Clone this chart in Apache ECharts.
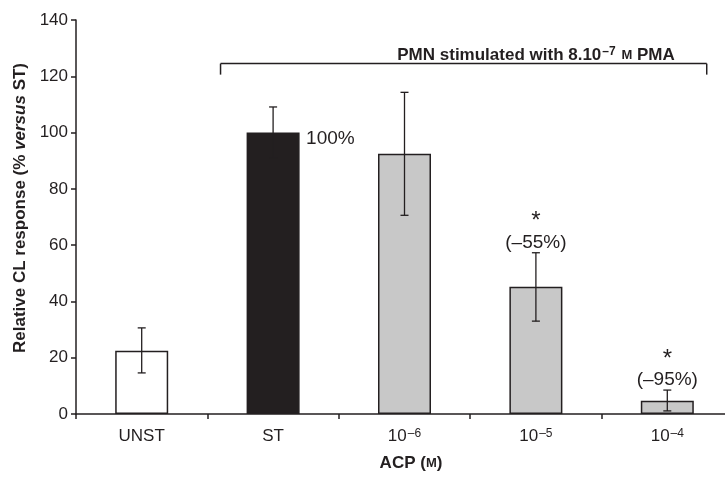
<!DOCTYPE html>
<html>
<head>
<meta charset="utf-8">
<script src="https://cdn.jsdelivr.net/npm/echarts@6/dist/echarts.min.js"></script>
<style>html,body{margin:0;padding:0;background:#fff;overflow:hidden;width:725px;height:477px;}#c{width:740px;height:477px;}</style>
</head>
<body>
<div id="c"></div>
<script>
// ---- data ----
var categories = ['UNST', 'ST', '1e-6', '1e-5', '1e-4'];
var tickLabels = ['UNST', 'ST', '10{s|–6}', '10{s|–5}', '10{s|–4}'];
var values = [22.5, 100, 92.5, 45.2, 4.7];
var errLow = [14.6, 91, 70.6, 33.0, 1.1];
var errHigh = [30.6, 109.1, 114.3, 57.3, 8.5];
var barColors = ['#ffffff', '#231f20', '#c8c8c8', '#c8c8c8', '#c8c8c8'];
var annotations = [null, '100%', null, '(–55%)', '(–95%)'];
var stars = [false, false, false, true, true];
var yTicks = { min: 0, max: 140, interval: 20 };
var bracketText = 'PMN stimulated with 8.10{s|–7} {m|M} PMA';
var bracketValue = 124.5;

var FONT = 'Liberation Sans, Arial, Helvetica, sans-serif';
var INK = '#231f20';

var chart = echarts.init(document.getElementById('c'), null, { renderer: 'canvas' });

var barData = values.map(function (v, i) {
  return { value: v, itemStyle: { color: barColors[i], borderColor: INK, borderWidth: 1.5 } };
});
var errData = values.map(function (v, i) { return [i, errLow[i], errHigh[i]]; });
var annData = values.map(function (v, i) { return [i, errHigh[i], v]; });

var option = {
  animation: false,
  backgroundColor: '#fff',
  grid: { left: 76, top: 20, bottom: 63, right: 7, containLabel: false },
  xAxis: {
    type: 'category',
    data: categories,
    axisLine: { lineStyle: { color: INK, width: 1.5 } },
    axisTick: { show: true, length: 5, alignWithLabel: false, lineStyle: { color: INK, width: 1.5 } },
    axisLabel: {
      margin: 14,
      color: INK,
      fontFamily: FONT,
      fontSize: 17,
      formatter: function (val, idx) { return tickLabels[idx]; },
      rich: {
        s: { fontSize: 12, fontFamily: FONT, color: INK, verticalAlign: 'top', lineHeight: 12, padding: [0, 0, 10, 1] }
      }
    },
    name: 'ACP ({m|M})',
    nameLocation: 'middle',
    nameGap: 39,
    nameTextStyle: {
      fontFamily: FONT, fontSize: 17, fontWeight: 'bold', color: INK, padding: [0, 0, 0, 13],
      rich: { m: { fontFamily: FONT, fontSize: 13, fontWeight: 'bold', color: INK } }
    }
  },
  yAxis: {
    type: 'value',
    min: yTicks.min, max: yTicks.max, interval: yTicks.interval,
    splitLine: { show: false },
    axisLine: { show: true, lineStyle: { color: INK, width: 1.5 } },
    axisTick: { show: true, length: 5, lineStyle: { color: INK, width: 1.5 } },
    axisLabel: { margin: 8, color: INK, fontFamily: FONT, fontSize: 17 },
    name: 'Relative CL response (% {i|versus} ST)',
    nameLocation: 'middle',
    nameGap: 43,
    nameTextStyle: {
      fontFamily: FONT, fontSize: 17, fontWeight: 'bold', color: INK, padding: [0, 0, 0, 18],
      rich: { i: { fontFamily: FONT, fontSize: 17, fontWeight: 'bold', fontStyle: 'italic', color: INK } }
    }
  },
  series: [
    {
      type: 'bar',
      data: barData,
      barWidth: 53,
      z: 2
    },
    {
      type: 'custom',
      z: 3,
      data: errData,
      renderItem: function (params, api) {
        var x = api.value(0);
        var lo = api.coord([x, api.value(1)]);
        var hi = api.coord([x, api.value(2)]);
        var cap = 4;
        var st = { stroke: INK, lineWidth: 1.3 };
        return {
          type: 'group',
          children: [
            { type: 'line', shape: { x1: lo[0], y1: lo[1], x2: hi[0], y2: hi[1] }, style: st },
            { type: 'line', shape: { x1: lo[0] - cap, y1: lo[1], x2: lo[0] + cap, y2: lo[1] }, style: st },
            { type: 'line', shape: { x1: hi[0] - cap, y1: hi[1], x2: hi[0] + cap, y2: hi[1] }, style: st }
          ]
        };
      }
    },
    {
      type: 'custom',
      z: 4,
      data: annData,
      renderItem: function (params, api) {
        var i = params.dataIndex;
        var txt = annotations[i];
        if (!txt) return null;
        var children = [];
        if (i === 1) {
          var p = api.coord([i, api.value(2)]);
          children.push({ type: 'text', style: { text: txt, x: p[0] + 33, y: p[1] + 6, textAlign: 'left', textVerticalAlign: 'middle', fontFamily: FONT, fontSize: 19, fill: INK } });
        } else {
          var q = api.coord([i, api.value(1)]);
          children.push({ type: 'text', style: { text: txt, x: q[0], y: q[1] - 10, textAlign: 'center', textVerticalAlign: 'middle', fontFamily: FONT, fontSize: 19, fill: INK } });
          if (stars[i]) {
            children.push({ type: 'text', style: { text: '*', x: q[0], y: q[1] - 31, textAlign: 'center', textVerticalAlign: 'middle', fontFamily: FONT, fontSize: 24, fill: INK } });
          }
        }
        return { type: 'group', children: children };
      }
    },
    {
      type: 'custom',
      z: 4,
      data: [[1, bracketValue, 4]],
      renderItem: function (params, api) {
        var a = api.coord([api.value(0), api.value(1)]);
        var b = api.coord([api.value(2), api.value(1)]);
        var bw = api.size([1, 0])[0];
        var x1 = a[0] - bw * 0.4;
        var x2 = b[0] + bw * 0.3;
        var y = a[1];
        var st = { stroke: INK, lineWidth: 1.5 };
        return {
          type: 'group',
          children: [
            { type: 'line', shape: { x1: x1, y1: y, x2: x2, y2: y }, style: st },
            { type: 'line', shape: { x1: x1, y1: y, x2: x1, y2: y + 11 }, style: st },
            { type: 'line', shape: { x1: x2, y1: y, x2: x2, y2: y + 11 }, style: st },
            { type: 'text', style: {
                text: bracketText, x: x2 - 32, y: y - 8, textAlign: 'right', textVerticalAlign: 'middle',
                fontFamily: FONT, fontSize: 17, fontWeight: 'bold', fill: INK,
                rich: {
                  s: { fontFamily: FONT, fontSize: 12, fontWeight: 'bold', fill: INK, verticalAlign: 'top', padding: [0, 1, 7, 1] },
                  m: { fontFamily: FONT, fontSize: 13, fontWeight: 'bold', fill: INK }
                }
              } }
          ]
        };
      }
    }
  ]
};
chart.setOption(option);
</script>
</body>
</html>
